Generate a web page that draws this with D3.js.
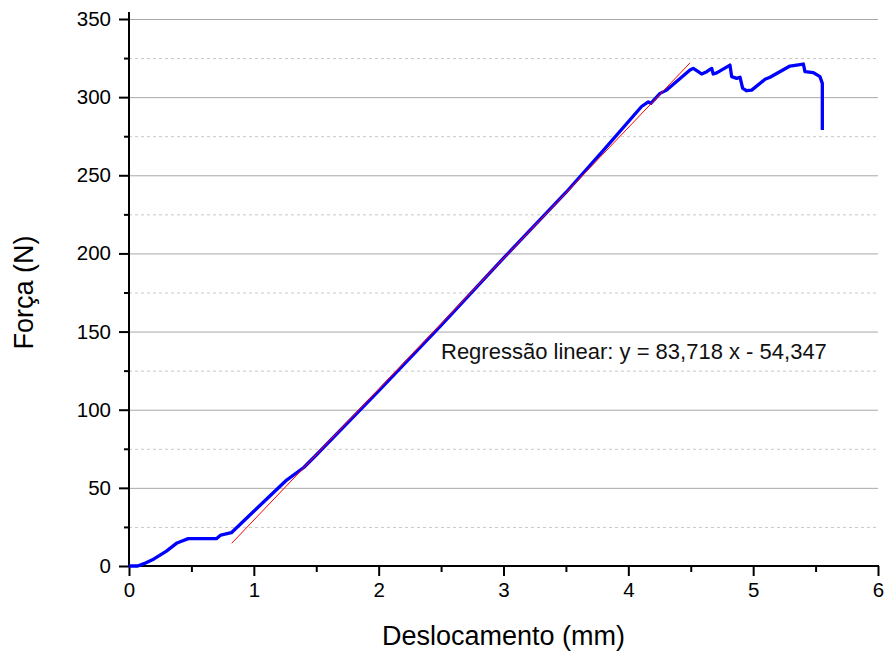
<!DOCTYPE html>
<html>
<head>
<meta charset="utf-8">
<script src="https://cdn.jsdelivr.net/npm/d3@7"></script>
<style>
  body { margin: 0; background: white; }
  svg { display: block; font-family: Arial, "Liberation Sans", sans-serif; }
</style>
</head>
<body>
<svg width="885" height="653"></svg>
<script>
// === Data

// force-displacement curve [mm, N]
const CURVE = [
  [0, 0], [0.07, 0], [0.12, 1.5], [0.2, 4.5], [0.3, 9.5], [0.38, 14.5], [0.42, 15.8],
  [0.475, 17.5], [0.7, 17.5], [0.735, 19.8], [0.82, 21.3], [1.0, 35], [1.263, 55],
  [1.4, 63], [1.5, 71], [2.0, 112], [2.5, 154], [3.0, 197], [3.5, 239], [3.8, 266],
  [4.106, 294], [4.16, 297], [4.18, 296], [4.254, 302.4], [4.307, 304.5],
  [4.494, 317.4], [4.52, 318.4], [4.56, 316.3], [4.587, 314.8], [4.628, 316.3],
  [4.655, 317.8], [4.668, 318.4], [4.68, 314.8], [4.708, 315.5], [4.814, 320.5],
  [4.828, 313.1], [4.868, 312], [4.895, 312.7], [4.916, 305.6], [4.948, 304.1],
  [4.988, 304.5], [5.095, 311.4], [5.135, 312.7], [5.295, 319.9], [5.402, 321.2],
  [5.415, 316.3], [5.482, 315.7], [5.535, 313.1], [5.554, 308.8], [5.554, 279]
];
// regression line end points
const FIT = [[0.823, 14.55], [4.494, 321.9]];
const FIT_LABEL = 'Regressão linear: y = 83,718 x - 54,347';

const X_TICKS = [0, 1, 2, 3, 4, 5, 6];
const X_MINOR = [0.5, 1.5, 2.5, 3.5, 4.5, 5.5];
const Y_TICKS = [0, 50, 100, 150, 200, 250, 300, 350];
const Y_MINOR = [25, 75, 125, 175, 225, 275, 325];

// === Layout

const MARGIN = { left: 129, top: 19, right: 7, bottom: 87 };
const W = 885, H = 653;
const FONT = 'Arial, "Liberation Sans", sans-serif';

const svg = d3.select('svg');
const x = d3.scaleLinear().domain([0, 6]).range([MARGIN.left, W - MARGIN.right]);
const y = d3.scaleLinear().domain([0, 350]).range([H - MARGIN.bottom, MARGIN.top]);

// grid
svg.append('g').selectAll('line')
  .data(Y_MINOR).enter().append('line')
  .attr('x1', x(0)).attr('x2', x(6))
  .attr('y1', d => y(d) + 0.5).attr('y2', d => y(d) + 0.5)
  .attr('stroke', '#c8c8c8').attr('stroke-width', 1).attr('stroke-dasharray', '3,3');
svg.append('g').selectAll('line')
  .data(Y_TICKS.slice(1)).enter().append('line')
  .attr('x1', x(0)).attr('x2', x(6))
  .attr('y1', d => y(d) + 0.5).attr('y2', d => y(d) + 0.5)
  .attr('stroke', '#a8a8a8').attr('stroke-width', 1);

// axes
const xAxis = d3.axisBottom(x).tickValues(X_TICKS).tickFormat(d3.format('d')).tickSize(10).tickPadding(6).tickSizeOuter(0);
const xMinor = d3.axisBottom(x).tickValues(X_MINOR).tickFormat('').tickSize(6).tickSizeOuter(0);
const yAxis = d3.axisLeft(y).tickValues(Y_TICKS).tickFormat(d3.format('d')).tickSize(10).tickPadding(8).tickSizeOuter(0);
const yMinor = d3.axisLeft(y).tickValues(Y_MINOR).tickFormat('').tickSize(5).tickSizeOuter(0);

function styleAxis(g) {
  g.select('.domain').remove();
  g.selectAll('line').attr('stroke', '#000').attr('stroke-width', 2);
  g.selectAll('text').attr('font-size', 20.5).attr('fill', '#000').attr('font-family', FONT);
}

svg.append('g').attr('transform', `translate(0,${y(0)})`).call(xMinor).call(styleAxis);
svg.append('g').attr('transform', `translate(0,${y(0)})`).call(xAxis).call(styleAxis);
svg.append('g').attr('transform', `translate(${x(0)},0)`).call(yMinor).call(styleAxis);
svg.append('g').attr('transform', `translate(${x(0)},0)`).call(yAxis).call(styleAxis);

// axis lines
svg.append('line')
  .attr('x1', x(0)).attr('x2', x(0)).attr('y1', y(0) + 1).attr('y2', MARGIN.top - 7)
  .attr('stroke', '#000').attr('stroke-width', 2);
svg.append('line')
  .attr('x1', x(0) - 1).attr('x2', x(6) + 1).attr('y1', y(0)).attr('y2', y(0))
  .attr('stroke', '#000').attr('stroke-width', 2);

// curve
const line = d3.line().x(d => x(d[0])).y(d => y(d[1]));
svg.append('path').datum(CURVE)
  .attr('d', line).attr('fill', 'none')
  .attr('stroke', '#0000ff').attr('stroke-width', 3.3).attr('stroke-linejoin', 'round');

svg.append('path').datum(FIT)
  .attr('d', line).attr('fill', 'none')
  .attr('stroke', '#ff0000').attr('stroke-width', 1);

// labels
svg.append('text')
  .attr('x', 441).attr('y', 359)
  .attr('font-size', 22).attr('fill', '#111')
  .text(FIT_LABEL);

svg.append('text')
  .attr('x', (x(0) + x(6)) / 2).attr('y', 645)
  .attr('text-anchor', 'middle').attr('font-size', 27)
  .text('Deslocamento (mm)');

svg.append('text')
  .attr('transform', `translate(33,${(y(0) + y(350)) / 2}) rotate(-90)`)
  .attr('text-anchor', 'middle').attr('font-size', 27)
  .text('Força (N)');
</script>
</body>
</html>
